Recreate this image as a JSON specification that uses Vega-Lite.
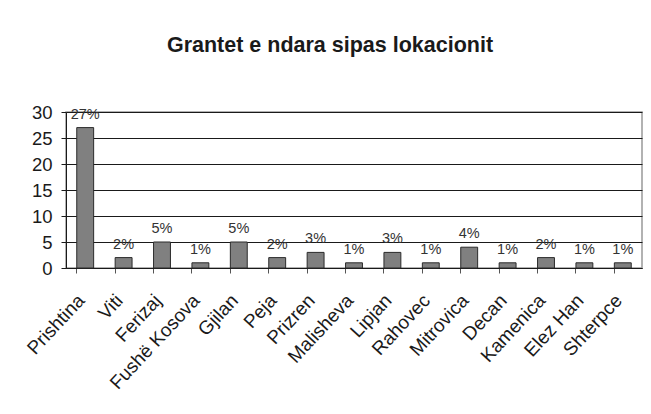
{
  "$schema": "https://vega.github.io/schema/vega-lite/v6.json",
  "width": 576,
  "height": 156,
  "autosize": {"type": "none"},
  "padding": {"left": 66, "top": 112, "right": 9, "bottom": 146},
  "background": "white",
  "title": {
    "text": "Grantet e ndara sipas lokacionit",
    "font": "Liberation Sans",
    "fontSize": 21.5,
    "fontWeight": "bold",
    "color": "#1a1a1a",
    "anchor": "middle",
    "frame": "group",
    "dx": -24,
    "offset": 47
  },
  "data": {
    "values": [
      {"lokacioni": "Prishtina", "vlera": 27, "etiketa": "27%"},
      {"lokacioni": "Viti", "vlera": 2, "etiketa": "2%"},
      {"lokacioni": "Ferizaj", "vlera": 5, "etiketa": "5%"},
      {"lokacioni": "Fushë Kosova", "vlera": 1, "etiketa": "1%"},
      {"lokacioni": "Gjilan", "vlera": 5, "etiketa": "5%"},
      {"lokacioni": "Peja", "vlera": 2, "etiketa": "2%"},
      {"lokacioni": "Prizren", "vlera": 3, "etiketa": "3%"},
      {"lokacioni": "Malisheva", "vlera": 1, "etiketa": "1%"},
      {"lokacioni": "Lipjan", "vlera": 3, "etiketa": "3%"},
      {"lokacioni": "Rahovec", "vlera": 1, "etiketa": "1%"},
      {"lokacioni": "Mitrovica", "vlera": 4, "etiketa": "4%"},
      {"lokacioni": "Decan", "vlera": 1, "etiketa": "1%"},
      {"lokacioni": "Kamenica", "vlera": 2, "etiketa": "2%"},
      {"lokacioni": "Elez Han", "vlera": 1, "etiketa": "1%"},
      {"lokacioni": "Shterpce", "vlera": 1, "etiketa": "1%"}
    ]
  },
  "encoding": {
    "x": {
      "field": "lokacioni",
      "type": "nominal",
      "sort": null,
      "title": null,
      "scale": {"paddingInner": 0.56, "paddingOuter": 0.28},
      "axis": {
        "bandPosition": 0,
        "labelAngle": -47,
        "labelAlign": "right",
        "labelBaseline": "middle",
        "labelFont": "Liberation Sans",
        "labelFontSize": 19,
        "labelColor": "#1a1a1a",
        "labelPadding": 24,
        "labelOffset": -4,
        "domainColor": "#1a1a1a",
        "tickColor": "#555",
        "tickSize": 5,
        "grid": false
      }
    },
    "y": {
      "field": "vlera",
      "type": "quantitative",
      "title": null,
      "scale": {"domain": [0, 30], "nice": false},
      "axis": {
        "values": [0, 5, 10, 15, 20, 25, 30],
        "labelFont": "Liberation Sans",
        "labelFontSize": 18.5,
        "labelColor": "#1a1a1a",
        "labelPadding": 9,
        "domainColor": "#1a1a1a",
        "tickColor": "#1a1a1a",
        "tickSize": 5,
        "grid": true,
        "gridColor": "#1a1a1a",
        "gridOpacity": 1,
        "gridWidth": 1
      }
    }
  },
  "layer": [
    {
      "mark": {"type": "bar", "color": "#808080", "stroke": "#2a2a2a", "strokeWidth": 1}
    },
    {
      "mark": {"type": "text", "baseline": "alphabetic", "dy": -9, "font": "Liberation Sans", "fontSize": 14.5, "color": "#333"},
      "encoding": {"text": {"field": "etiketa"}}
    }
  ],
  "config": {
    "view": {"stroke": "#999", "strokeWidth": 1.5}
  }
}
